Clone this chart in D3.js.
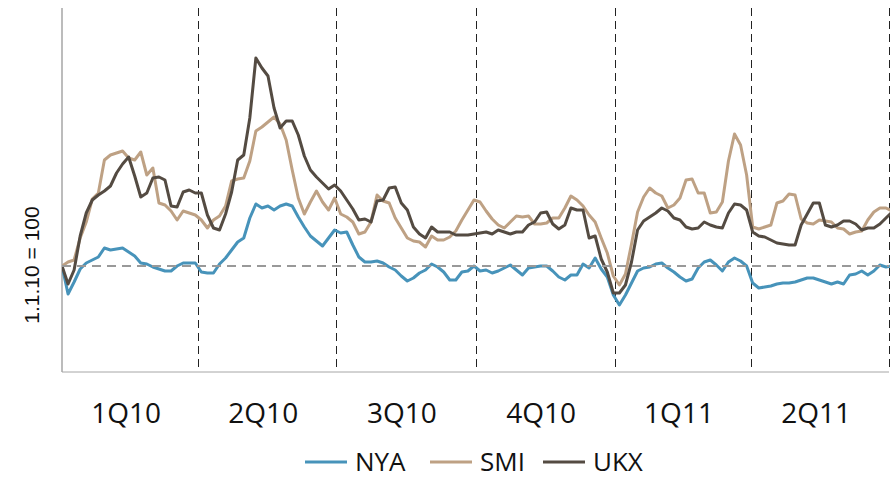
<!DOCTYPE html>
<html>
<head>
<meta charset="utf-8">
<script src="https://cdn.jsdelivr.net/npm/d3@7"></script>
<style>
  body { margin: 0; background: #fff; }
  svg { display: block; }
</style>
</head>
<body>
<script>
var svgWidth = 890;
var svgHeight = 478;

var margin = { top: 8, right: 1, bottom: 106, left: 62 };
var chartWidth = svgWidth - margin.left - margin.right;
var chartHeight = svgHeight - margin.top - margin.bottom;

// DATA (index, 1.1.10 = 100), one point every 4 days from 1 Jan 2010
var startDate = new Date(2010, 0, 1);
var stepDays = 4;
var quarterLabels = ["1Q10", "2Q10", "3Q10", "4Q10", "1Q11", "2Q11"];
var seriesNames = ["NYA", "SMI", "UKX"];
var seriesColors = ["#4793ba", "#bea184", "#544b42"];

var nya = [100.0, 97.2, 98.4, 99.7, 100.3, 100.6, 100.9, 101.8, 101.6, 101.7,
  101.8, 101.4, 101.0, 100.3, 100.2, 99.9, 99.7, 99.5, 99.5, 100.0,
  100.3, 100.3, 100.3, 99.4, 99.3, 99.3, 100.2, 100.8, 101.6, 102.4,
  102.8, 104.8, 106.2, 105.8, 106.0, 105.6, 106.0, 106.2, 106.0, 104.9,
  103.9, 103.0, 102.5, 102.0, 102.8, 103.6, 103.3, 103.4, 102.1, 100.9,
  100.4, 100.4, 100.5, 100.3, 99.9, 99.6, 99.0, 98.5, 98.8, 99.3,
  99.6, 100.2, 99.9, 99.4, 98.6, 98.6, 99.4, 99.5, 100.0, 99.5,
  99.6, 99.3, 99.5, 99.8, 100.1, 99.6, 99.1, 99.8, 99.9, 100.0,
  100.0, 99.5, 98.9, 98.6, 99.1, 99.1, 100.2, 99.8, 100.8, 99.7,
  98.9, 97.1, 96.1, 97.1, 98.3, 99.5, 99.8, 99.9, 100.2, 100.3,
  99.8, 99.4, 98.9, 98.5, 98.7, 99.8, 100.4, 100.6, 100.1, 99.5,
  100.4, 100.8, 100.5, 100.0, 98.3, 97.8, 97.9, 98.0, 98.2, 98.3,
  98.3, 98.4, 98.6, 98.8, 98.8, 98.6, 98.4, 98.2, 98.4, 98.2,
  99.1, 99.2, 99.5, 99.1, 99.5, 100.1, 99.9, 100.0];

var smi = [100.0, 100.4, 100.6, 102.8, 104.4, 106.7, 107.3, 110.6, 111.1, 111.3,
  111.5, 110.8, 110.6, 111.4, 109.1, 109.8, 106.3, 106.1, 105.5, 104.6,
  105.5, 105.3, 105.1, 104.6, 103.8, 104.6, 105.0, 106.0, 108.5, 108.7,
  108.8, 110.5, 113.5, 113.9, 114.4, 114.9, 114.2, 112.6, 109.6, 106.8,
  105.2, 106.4, 107.5, 106.4, 105.6, 106.8, 105.2, 104.9, 104.4, 103.2,
  103.4, 104.4, 107.1, 106.5, 106.3, 104.8, 103.8, 102.8, 102.5, 102.4,
  101.9, 103.0, 102.6, 102.6, 102.9, 103.5, 104.6, 105.6, 106.6, 106.4,
  105.5, 104.7, 104.1, 103.8, 104.4, 105.0, 104.9, 105.0, 104.2, 104.2,
  104.3, 104.8, 104.8, 105.8, 107.0, 106.6, 106.0, 105.1, 104.4, 102.8,
  101.3, 99.0, 98.1, 99.2, 102.2, 105.4, 106.9, 107.8, 107.3, 107.0,
  105.8, 106.1, 106.8, 108.6, 108.7, 107.3, 107.3, 105.3, 105.4, 106.4,
  110.5, 113.2, 112.1, 109.1, 103.9, 103.7, 103.9, 104.1, 106.3, 106.5,
  107.2, 107.1, 104.7, 104.3, 104.2, 104.6, 104.5, 104.4, 103.8, 103.7,
  103.2, 103.4, 103.5, 104.6, 105.4, 105.8, 105.8, 105.5];

var ukx = [100.0, 98.2, 99.6, 103.0, 105.3, 106.6, 107.1, 107.5, 108.0, 109.3,
  110.2, 110.9, 109.0, 106.9, 107.3, 108.8, 108.9, 108.6, 106.0, 105.9,
  107.4, 107.6, 107.3, 107.3, 105.1, 103.8, 103.6, 105.2, 107.4, 110.6,
  111.1, 114.8, 120.8, 119.8, 119.0, 115.8, 113.8, 114.5, 114.5, 113.1,
  111.0, 109.6, 108.9, 108.3, 107.7, 108.1, 107.5, 106.6, 105.7, 104.6,
  104.7, 104.4, 106.5, 106.6, 107.8, 107.9, 106.3, 105.6, 103.9, 103.2,
  102.8, 103.9, 103.4, 103.4, 103.4, 103.1, 103.1, 103.1, 103.2, 103.3,
  103.4, 103.2, 103.6, 103.4, 103.2, 103.4, 103.4, 104.1, 104.4, 105.3,
  105.4, 104.2, 103.7, 104.1, 105.8, 105.6, 105.6, 102.8, 103.0, 100.7,
  99.4, 97.3, 97.3, 98.1, 100.4, 103.6, 104.5, 104.9, 105.3, 105.8,
  105.5, 104.8, 104.6, 103.9, 103.7, 103.8, 104.4, 104.1, 103.9, 103.8,
  105.3, 106.2, 106.1, 105.6, 103.4, 103.0, 102.9, 102.6, 102.3, 102.2,
  102.1, 102.1, 104.1, 105.2, 106.3, 106.3, 104.1, 103.9, 104.1, 104.5,
  104.5, 104.2, 103.6, 103.8, 103.8, 104.2, 104.8, 105.4];

var seriesValues = [nya, smi, ukx];

var svg = d3.select("body")
  .append("svg")
  .attr("width", svgWidth)
  .attr("height", svgHeight);

var chartGroup = svg.append("g")
  .attr("transform", `translate(${margin.left}, ${margin.top})`);

// SCALES

var xScale = d3.scaleTime()
  .domain([startDate, new Date(2011, 6, 1)])
  .range([0, chartWidth]);

var yScale = d3.scaleLinear()
  .domain([89.4, 125.8])
  .range([chartHeight, 0]);

var quarterStarts = d3.timeMonth.every(3).range(startDate, new Date(2011, 6, 2));

// AXES

chartGroup.append("line")
  .attr("x1", 0).attr("x2", 0)
  .attr("y1", 0).attr("y2", chartHeight)
  .attr("stroke", "#a6a6a6")
  .attr("stroke-width", 1.5);

chartGroup.append("line")
  .attr("x1", 0).attr("x2", chartWidth)
  .attr("y1", chartHeight).attr("y2", chartHeight)
  .attr("stroke", "#a6a6a6")
  .attr("stroke-width", 1);

// quarter separators
chartGroup.selectAll(".qline")
  .data(quarterStarts.slice(1))
  .enter()
  .append("line")
  .attr("class", "qline")
  .attr("x1", d => Math.round(xScale(d)) + 0.5)
  .attr("x2", d => Math.round(xScale(d)) + 0.5)
  .attr("y1", 0)
  .attr("y2", chartHeight)
  .attr("stroke", "#222")
  .attr("stroke-width", 1)
  .attr("stroke-dasharray", "8,5");

// quarter labels
chartGroup.selectAll(".qlabel")
  .data(quarterStarts)
  .enter()
  .append("text")
  .attr("class", "qlabel")
  .attr("x", d => (xScale(d) + xScale(d3.timeMonth.offset(d, 3))) / 2 - 4)
  .attr("y", chartHeight + 51)
  .attr("text-anchor", "middle")
  .style("font-family", "'Open Sans', sans-serif")
  .style("font-size", "28px")
  .attr("fill", "#111")
  .text((d, i) => quarterLabels[i]);

// y axis title
svg.append("text")
  .attr("transform", "translate(39, 265) rotate(-90)")
  .attr("text-anchor", "middle")
  .style("font-family", "'Liberation Sans', Arial, sans-serif")
  .style("font-size", "21px")
  .attr("fill", "#111")
  .text("1.1.10 = 100");

// LINES

svg.append("clipPath").attr("id", "plotclip")
  .append("rect")
  .attr("x", 0).attr("y", -5)
  .attr("width", chartWidth + 2).attr("height", chartHeight + 10);

var line = d3.line()
  .x((d, i) => xScale(d3.timeDay.offset(startDate, i * stepDays)))
  .y(d => yScale(d));

var lineGroup = chartGroup.append("g").attr("clip-path", "url(#plotclip)");

lineGroup.selectAll(".series")
  .data(seriesValues)
  .enter()
  .append("path")
  .attr("class", "series")
  .attr("d", d => line(d))
  .attr("fill", "none")
  .attr("stroke", (d, i) => seriesColors[i])
  .attr("stroke-width", 3)
  .attr("stroke-linejoin", "round");

// baseline at 100
lineGroup.append("line")
  .attr("x1", 0).attr("x2", chartWidth)
  .attr("y1", yScale(100)).attr("y2", yScale(100))
  .attr("stroke", "#999")
  .attr("stroke-width", 2)
  .attr("stroke-dasharray", "9,6");

// LEGEND

var legendX = [305, 430, 543];
var legend = svg.append("g").attr("transform", "translate(0, 462)");

var items = legend.selectAll(".item")
  .data(seriesNames)
  .enter()
  .append("g")
  .attr("class", "item")
  .attr("transform", (d, i) => `translate(${legendX[i]}, 0)`);

items.append("line")
  .attr("x1", 0).attr("x2", 42)
  .attr("y1", 0).attr("y2", 0)
  .attr("stroke", (d, i) => seriesColors[i])
  .attr("stroke-width", 3);

items.append("text")
  .attr("x", 50)
  .attr("y", 9)
  .style("font-family", "'Open Sans', sans-serif")
  .style("font-size", "26px")
  .attr("fill", "#111")
  .text(d => d);
</script>
</body>
</html>
